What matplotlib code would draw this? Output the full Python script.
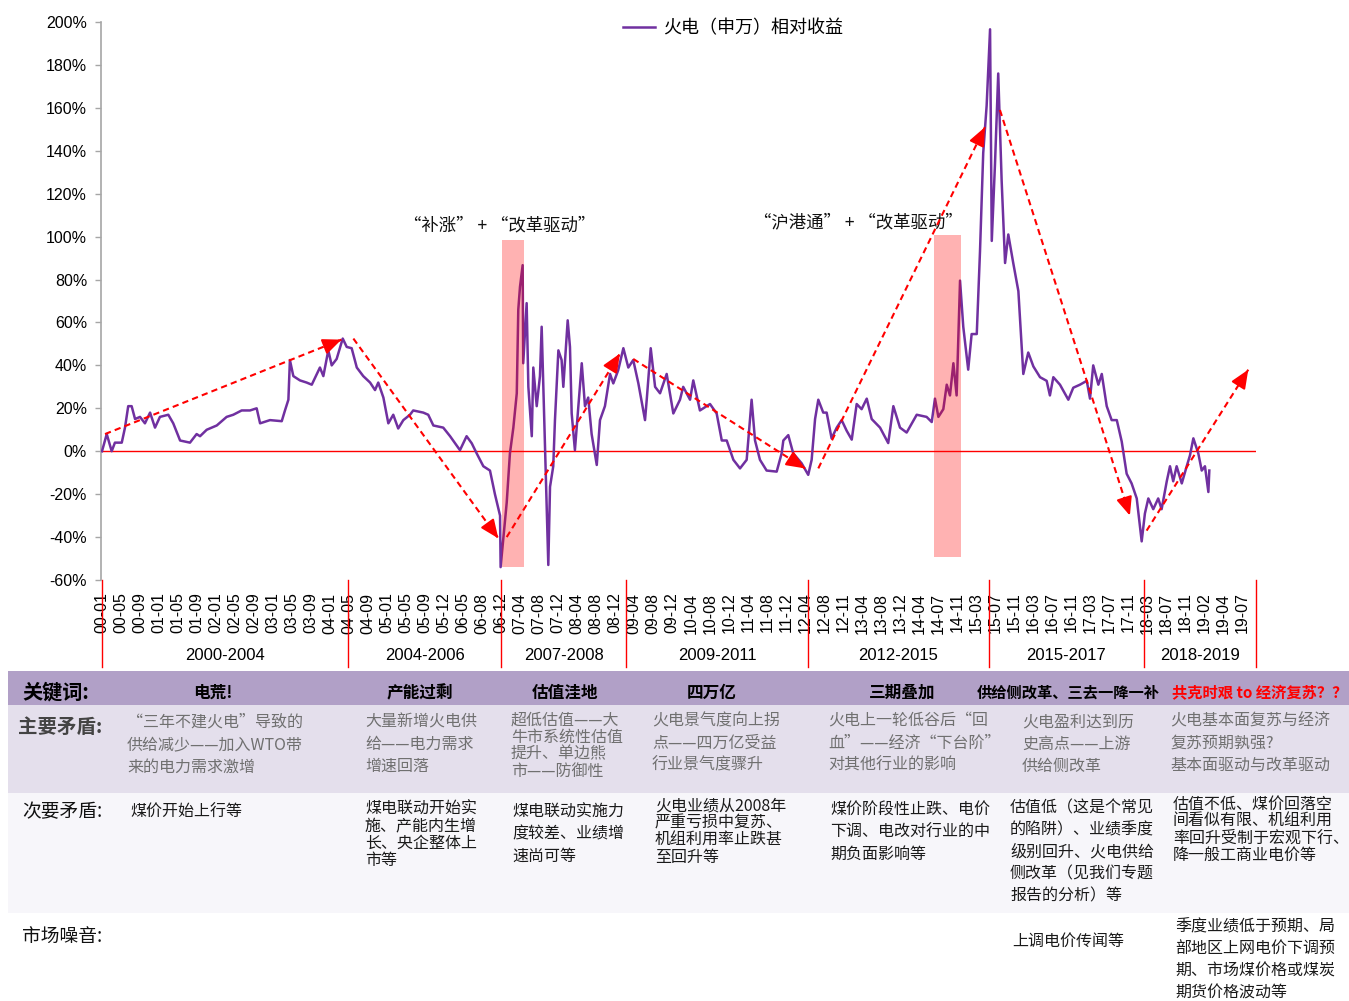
import matplotlib
matplotlib.use('Agg')
import matplotlib.pyplot as plt
from matplotlib.patches import Rectangle
import matplotlib.transforms as mtransforms

W, H = 1349, 1001
plt.rcParams['font.family'] = ['Liberation Sans', 'Noto Sans CJK SC', 'DejaVu Sans']
CJK = ['Noto Sans CJK SC', 'Liberation Sans', 'DejaVu Sans']

# ---------------- data ----------------
tick_labels = ['00-01', '00-05', '00-09', '01-01', '01-05', '01-09', '02-01', '02-05', '02-09',
               '03-01', '03-05', '03-09', '04-01', '04-05', '04-09', '05-01', '05-05', '05-09',
               '05-12', '06-05', '06-08', '06-12', '07-04', '07-08', '07-12', '08-04', '08-08',
               '08-12', '09-04', '09-08', '09-12', '10-04', '10-08', '10-12', '11-04', '11-08',
               '11-12', '12-04', '12-08', '12-11', '13-04', '13-08', '13-12', '14-04', '14-07',
               '14-11', '15-03', '15-07', '15-11', '16-03', '16-07', '16-11', '17-03', '17-07',
               '17-11', '18-03', '18-07', '18-11', '19-02', '19-04', '19-07']

# position along the category axis (in tick-label units) and relative return (%)
t_pos = [0.0, 0.25, 0.51, 0.68, 1.04, 1.21, 1.38, 1.56, 1.74, 2.0, 2.26, 2.53, 2.79, 3.05, 3.49,
         3.75, 4.11, 4.63, 4.98, 5.16, 5.51, 6.04, 6.56, 6.91, 7.35, 7.79, 8.14, 8.32, 8.84, 9.46,
         9.63, 9.81, 9.89, 10.07, 10.42, 10.77, 11.04, 11.47, 11.65, 11.91, 12.09, 12.35, 12.67,
         12.88, 13.14, 13.41, 13.75, 14.11, 14.37, 14.54, 14.81, 15.07, 15.33, 15.59, 15.86, 16.21,
         16.38, 16.91, 17.17, 17.44, 17.96, 18.32, 18.84, 19.19, 19.46, 19.72, 20.07, 20.42, 20.68,
         20.95, 20.98, 21.12, 21.3, 21.47, 21.65, 21.83, 21.91, 22.0, 22.14, 22.17, 22.35, 22.44,
         22.62, 22.7, 22.88, 23.05, 23.14, 23.32, 23.49, 23.58, 23.75, 23.84, 24.02, 24.19, 24.28,
         24.51, 24.63, 24.72, 24.89, 25.07, 25.25, 25.42, 25.59, 25.77, 26.04, 26.21, 26.47, 26.74,
         26.91, 27.17, 27.44, 27.7, 27.96, 28.23, 28.58, 28.67, 28.88, 29.11, 29.37, 29.72, 30.07,
         30.42, 30.59, 30.95, 31.12, 31.47, 32.0, 32.35, 32.62, 32.88, 33.23, 33.58, 33.93, 34.19,
         34.37, 34.63, 34.98, 35.51, 35.77, 35.86, 36.12, 36.38, 36.82, 37.17, 37.35, 37.53, 37.7,
         37.96, 38.14, 38.4, 38.67, 38.93, 39.19, 39.46, 39.72, 39.98, 40.25, 40.51, 40.95, 41.38,
         41.65, 42.0, 42.35, 42.88, 43.4, 43.67, 43.84, 44.02, 44.28, 44.46, 44.63, 44.81, 44.98,
         45.16, 45.33, 45.59, 45.77, 46.04, 46.21, 46.38, 46.56, 46.74, 46.83, 47.0, 47.17, 47.35,
         47.53, 47.7, 47.96, 48.23, 48.49, 48.75, 49.02, 49.37, 49.72, 49.89, 50.07, 50.42, 50.86,
         51.12, 51.47, 51.83, 52.0, 52.17, 52.44, 52.62, 52.88, 53.14, 53.41, 53.67, 53.93, 54.19,
         54.46, 54.72, 54.89, 55.07, 55.33, 55.59, 55.77, 56.04, 56.21, 56.38, 56.56, 56.83, 57.09,
         57.26, 57.44, 57.7, 57.88, 58.05, 58.23, 58.28]
rel_ret = [0, 8, 0, 4, 4, 11, 21, 21, 15, 16, 13, 18, 11, 16, 17,
           13, 5, 4, 8, 7, 10, 12, 16, 17, 19, 19, 20, 13, 14.5, 14,
           19, 24, 42.5, 35, 33, 32, 31, 39, 35, 47, 40, 43, 52.5,
           48.6, 48, 39, 35, 32, 28.5, 32, 25, 13, 17, 10.6, 14.5, 17,
           19, 18, 17, 12, 11, 7, 0.5, 7, 3.7, -1, -7, -9, -20,
           -30, -54, -41, -24, -1, 11, 27, 66, 76.6, 86.7, 41, 69, 30,
           7, 39, 21, 35, 58, 0.5, -53, -16.6, -7, 14.5, 47, 42.5, 30,
           61, 48.6, 17.6, 0.5, 21, 41, 21, 25, 8, -6.4, 14.5, 21, 36,
           31.6, 37.8, 48, 39, 42.5, 31.6, 14.5, 24, 48, 30, 27, 36, 17.6,
           24, 30, 24, 33, 19, 22, 17.6, 5, 5, -4, -8, -4, 24,
           5, -4, -9, -9.5, -1, 5, 7.5, -1, -5.6, -11, -4, 15, 24,
           18, 18, 6, 11, 14.5, 9.6, 5.4, 22, 19.6, 24.5, 15, 11, 3.8,
           21, 11, 8.7, 17, 16, 13.6, 24.5, 16, 19.6, 31, 26, 41, 26,
           79.5, 58, 38, 54.6, 54.6, 93, 139, 161, 196.6, 98, 134, 176, 126,
           87.7, 101, 87.7, 74.6, 36, 46, 39.5, 34.5, 32.8, 26, 34.5, 31, 24,
           29.6, 31, 32.8, 24.5, 40, 31, 36, 21, 14.5, 14.5, 4.5, -10.5, -15,
           -22, -42, -29, -22, -27, -22, -27, -14, -7, -14, -7, -15, -7,
           -2, 6, -1, -9, -7, -19, -9]

# trend arrows (start -> end)
arrow_t0 = [0.16, 13.23, 21.3, 27.96, 37.7, 47.26, 54.98]
arrow_v0 = [8, 52.5, -40, 43, -8, 159, -37]
arrow_t1 = [12.6, 20.86, 27.26, 37.0, 46.47, 54.1, 60.33]
arrow_v1 = [52, -40.6, 45.5, -8, 151, -30, 38]

# highlighted "改革驱动" windows
shade_t0 = [21.05, 43.79]
shade_t1 = [22.2, 45.21]
shade_v0 = [-54, -49.3]
shade_v1 = [98.4, 100.7]
shade_text = ['“补涨” + “改革驱动”', '“沪港通” + “改革驱动”']

period_edges = [0, 12.95, 21.0, 27.58, 37.16, 46.68, 54.84, 60.74]
period_names = ['2000-2004', '2004-2006', '2007-2008', '2009-2011', '2012-2015', '2015-2017', '2018-2019']

keywords = ['电荒!', '产能过剩', '估值洼地', '四万亿', '三期叠加', '供给侧改革、三去一降一补', '共克时艰 to 经济复苏？？']
main_conflict = [
    ['“三年不建火电”导致的', '供给减少——加入WTO带', '来的电力需求激增'],
    ['大量新增火电供', '给——电力需求', '增速回落'],
    ['超低估值——大', '牛市系统性估值', '提升、单边熊', '市——防御性'],
    ['火电景气度向上拐', '点——四万亿受益', '行业景气度骤升'],
    ['火电上一轮低谷后“回', '血”——经济“下台阶”', '对其他行业的影响'],
    ['火电盈利达到历', '史高点——上游', '供给侧改革'],
    ['火电基本面复苏与经济', '复苏预期孰强?', '基本面驱动与改革驱动'],
]
secondary_conflict = [
    ['煤价开始上行等'],
    ['煤电联动开始实', '施、产能内生增', '长、央企整体上', '市等'],
    ['煤电联动实施力', '度较差、业绩增', '速尚可等'],
    ['火电业绩从2008年', '严重亏损中复苏、', '机组利用率止跌甚', '至回升等'],
    ['煤价阶段性止跌、电价', '下调、电改对行业的中', '期负面影响等'],
    ['估值低（这是个常见', '的陷阱）、业绩季度', '级别回升、火电供给', '侧改革（见我们专题', '报告的分析）等'],
    ['估值不低、煤价回落空', '间看似有限、机组利用', '率回升受制于宏观下行、', '降一般工商业电价等'],
]
market_noise = [[], [], [], [], [], ['上调电价传闻等'],
                ['季度业绩低于预期、局', '部地区上网电价下调预', '期、市场煤价格或煤炭', '期货价格波动等']]

# ---------------- figure ----------------
fig = plt.figure(figsize=(W / 100, H / 100), dpi=100)
fig.patch.set_facecolor('white')


def fx(x):
    return x / W


def fy(y):
    return 1 - y / H


ax = fig.add_axes([fx(101), fy(580), (1256 - 101) / W, (580 - 22) / H])
ax.set_xlim(-1 / 19, 1154 / 19)
ax.set_ylim(-60, 200)

purple = '#7030A0'
ax.plot(t_pos, rel_ret, color=purple, lw=1.8, label='火电（申万）相对收益', zorder=3)
ax.axhline(0, color='red', lw=1.0, zorder=2)

for a, b, lo, hi in zip(shade_t0, shade_t1, shade_v0, shade_v1):
    ax.add_patch(Rectangle((a, lo), b - a, hi - lo, facecolor='red', alpha=0.3,
                           edgecolor='none', zorder=4))

ax.text(15.9, 105, shade_text[0], family=CJK, fontsize=12.5, ha='left', va='center', color='#111111')
ax.text(34.3, 106.5, shade_text[1], family=CJK, fontsize=12.5, ha='left', va='center', color='#111111')

# dashed trend arrows
fig.canvas.draw()
for x0, y0, x1, y1 in zip(arrow_t0, arrow_v0, arrow_t1, arrow_v1):
    ax.plot([x0, x1], [y0, y1], color='red', lw=1.5, ls=(0, (3, 2)), zorder=5)
    p0 = ax.transData.transform((x0, y0))
    p1 = ax.transData.transform((x1, y1))
    d = p1 - p0
    L = (d[0] ** 2 + d[1] ** 2) ** 0.5
    pb = p1 - d / L * 14
    xb, yb = ax.transData.inverted().transform(pb)
    ax.annotate('', xy=(x1, y1), xytext=(xb, yb),
                arrowprops=dict(arrowstyle='-|>,head_length=0.7,head_width=0.3', color='red',
                                lw=1.5, shrinkA=0, shrinkB=0, mutation_scale=16), zorder=6)

# axes styling
for s in ['top', 'right', 'bottom']:
    ax.spines[s].set_visible(False)
ax.spines['left'].set_color('#A6A6A6')
ax.spines['left'].set_linewidth(1.2)
ax.set_yticks(range(-60, 201, 20))
ax.set_yticklabels([f'{v}%' for v in range(-60, 201, 20)], fontsize=11.5)
ax.tick_params(axis='y', length=4, width=1, color='#A6A6A6', pad=6)
ax.set_xticks(range(len(tick_labels)))
ax.set_xticklabels(tick_labels, rotation=90, fontsize=11.5, va='top', ha='center')
ax.tick_params(axis='x', length=0, pad=9)

# period separators
trans = mtransforms.blended_transform_factory(ax.transData, ax.transAxes)
sep_bottom = -(667 - 580) / 558
for e in period_edges:
    ax.plot([e, e], [0, sep_bottom], transform=trans, color='red', lw=1.0, clip_on=False)
for i, name in enumerate(period_names):
    c = (period_edges[i] + period_edges[i + 1]) / 2
    ax.text(c, -(655 - 580) / 558, name, transform=trans, ha='center', va='center', fontsize=12)

leg = ax.legend(loc='center', bbox_to_anchor=(0.547, 0.989), frameon=False,
                prop={'family': CJK, 'size': 13}, handlelength=1.8, handletextpad=0.4)

# ---------------- table ----------------
fig.patches.append(Rectangle((fx(8), fy(705)), (W - 8) / W, 34 / H, transform=fig.transFigure,
                             facecolor='#B1A0C7', edgecolor='none', zorder=0))
fig.patches.append(Rectangle((fx(8), fy(793)), (W - 8) / W, 88 / H, transform=fig.transFigure,
                             facecolor='#E4DFEC', edgecolor='none', zorder=0))
fig.patches.append(Rectangle((fx(8), fy(913)), (W - 8) / W, 120 / H, transform=fig.transFigure,
                             facecolor='#F7F6FA', edgecolor='none', zorder=0))


def ft(x, y, s, **kw):
    kw.setdefault('family', CJK)
    kw.setdefault('va', 'center')
    fig.text(fx(x), fy(y), s, **kw)


ft(22, 692, '关键词:', fontsize=14.5, fontweight='bold', color='black')
ft(18, 727, '主要矛盾:', fontsize=14, fontweight='bold', color='#444444')
ft(22, 812, '次要矛盾:', fontsize=13.5, color='#111111')
ft(22, 937, '市场噪音:', fontsize=13.5, color='#111111')

kw_centers = [213, 420, 565, 712, 902, 1068, 1260]
kw_sizes = [12, 12, 12, 12, 12, 11, 11]
for i, k in enumerate(keywords):
    ft(kw_centers[i], 693, k, ha='center', fontsize=kw_sizes[i], fontweight='bold',
       color='red' if i == len(keywords) - 1 else 'black')

main_layout = [(127, 722, 22.5), (365, 722, 22), (511, 720, 17), (652, 721, 22),
               (828, 721, 22), (1022, 722, 22), (1170, 721, 22)]
for lines, (x, y0, st) in zip(main_conflict, main_layout):
    for j, line in enumerate(lines):
        ft(x, y0 + j * st, line, fontsize=11.5, color='#707070')

sec_layout = [(130, 812, 22), (365, 809, 17), (512, 812, 22), (655, 806, 17),
              (830, 810, 22), (1010, 808, 22), (1173, 804, 17)]
for lines, (x, y0, st) in zip(secondary_conflict, sec_layout):
    for j, line in enumerate(lines):
        ft(x, y0 + j * st, line, fontsize=11.5, color='#1a1a1a')

noise_layout = [(0, 0, 0)] * 5 + [(1012, 941, 22), (1175, 927, 22)]
for lines, (x, y0, st) in zip(market_noise, noise_layout):
    for j, line in enumerate(lines):
        ft(x, y0 + j * st, line, fontsize=11.5, color='#1a1a1a')

fig.savefig('out.png', dpi=100)
